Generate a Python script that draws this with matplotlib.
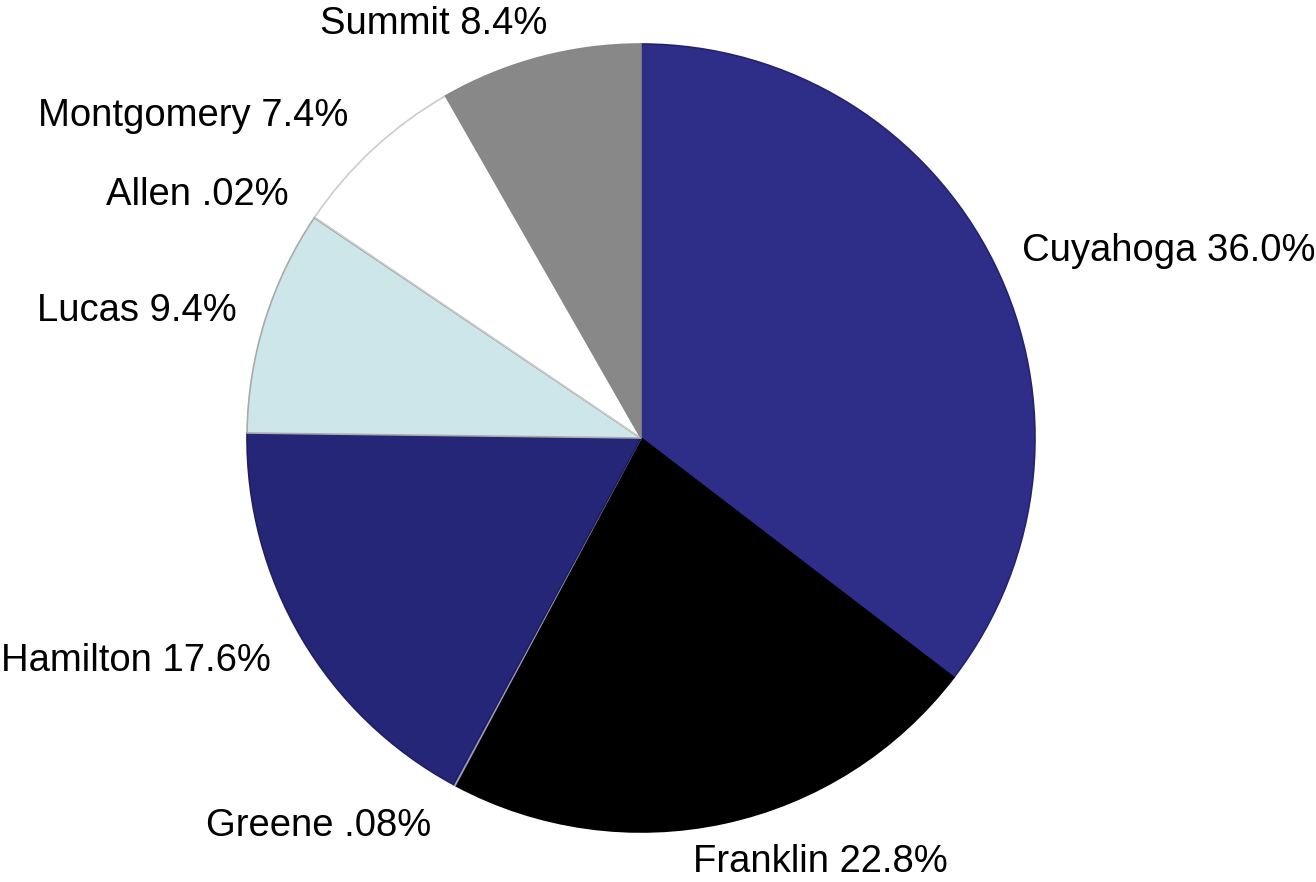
import numpy as np
import matplotlib
matplotlib.use('Agg')
import matplotlib.pyplot as plt

# data
counties = ['Cuyahoga', 'Franklin', 'Greene', 'Hamilton', 'Lucas', 'Allen', 'Montgomery', 'Summit']
shares = [36.0, 22.8, 0.08, 17.6, 9.4, 0.02, 7.4, 8.4]
share_labels = ['36.0%', '22.8%', '.08%', '17.6%', '9.4%', '.02%', '7.4%', '8.4%']

colors = ['#2E2D88', '#000000', '#B8B8D8', '#262678', '#CDE6EA', '#BBBBBB', '#FFFFFF', '#888888']
edges = ['#24236E', '#000000', '#9A9AC0', '#1E1E62', '#AAAAAA', '#999999', '#CCCCCC', '#888888']
# small label nudges (axes data units, radius = 1)
nudge = [(-0.02, -0.012), (-0.10, 0.0), (-0.01, -0.015), (0.01, -0.01),
         (0.025, -0.005), (0.018, 0.0), (0.005, 0.01), (0.045, -0.012)]

plt.rcParams['font.family'] = ['Liberation Sans', 'DejaVu Sans']

W, H = 1316, 882
cx, cy, r = 641, 438, 394

fig = plt.figure(figsize=(W/100, H/100), dpi=100)
ax = fig.add_axes([(cx-r)/W, (H-cy-r)/H, 2*r/W, 2*r/H])

labels = [c + ' ' + s for c, s in zip(counties, share_labels)]
wedges, texts = ax.pie(shares, labels=labels, colors=colors, startangle=90,
                       counterclock=False, labeldistance=1.1,
                       wedgeprops=dict(linewidth=1.2),
                       textprops=dict(fontsize=27.5, color='black'))
for w, e in zip(wedges, edges):
    w.set_edgecolor(e)
    w.set_clip_on(False)
for t, (dx, dy) in zip(texts, nudge):
    x, y = t.get_position()
    t.set_position((x + dx, y + dy))

ax.set_xlim(-1, 1)
ax.set_ylim(-1, 1)
ax.set_aspect('equal')
ax.axis('off')

plt.savefig('out.png', dpi=100)
